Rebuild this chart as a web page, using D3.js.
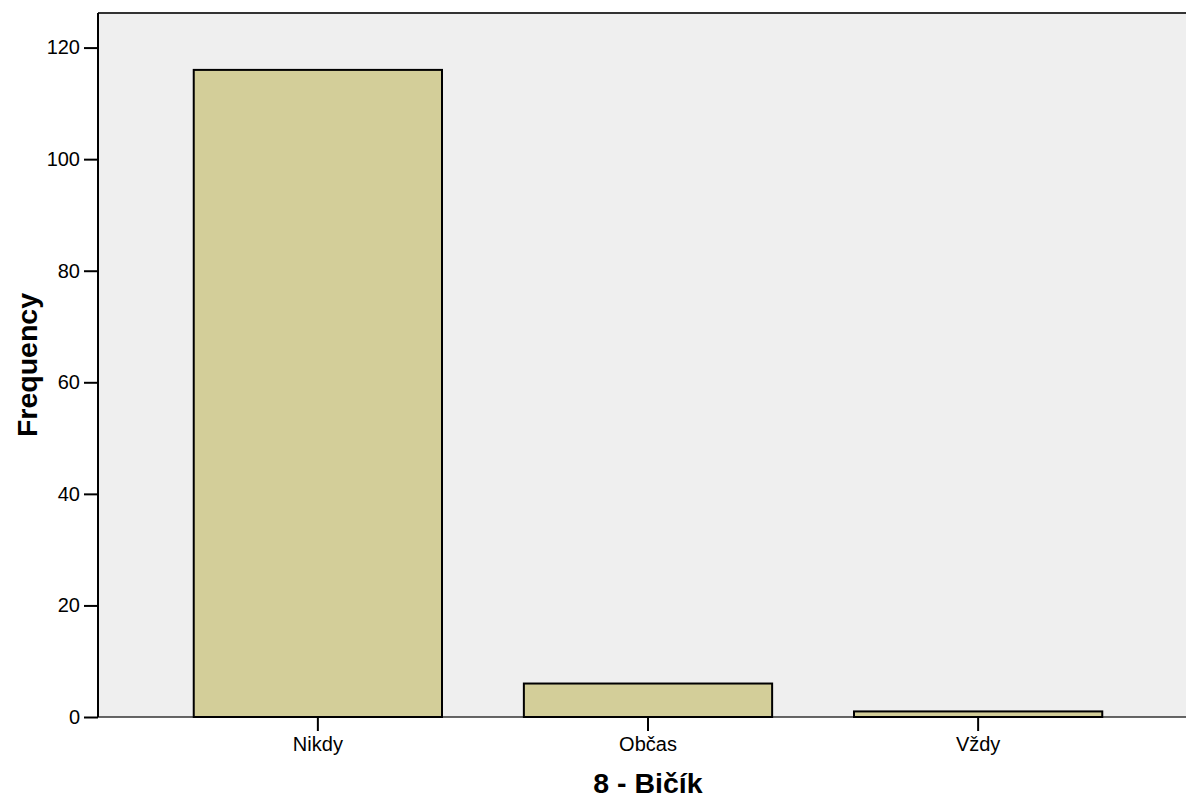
<!DOCTYPE html>
<html><head><meta charset="utf-8">
<script src="https://cdn.jsdelivr.net/npm/d3@7"></script>
<style>body{margin:0;background:#fff}svg{display:block}</style>
</head><body>
<svg id="c" width="1186" height="802"></svg>
<script>
const categories = ["Nikdy", "Občas", "Vždy"];
const frequencies = [116, 6, 1];
const yTicks = [0, 20, 40, 60, 80, 100, 120];
const xTitle = "8 - Bičík";
const yTitle = "Frequency";

const svg = d3.select("#c");
const L = 98, T = 13, R = 1198, B = 717;
const font = "'Liberation Sans', Arial, sans-serif";

const x = d3.scaleBand().domain(categories).range([L, R]).paddingInner(0.248).paddingOuter(0.29);
const y = d3.scaleLinear().domain([0, 126.2]).range([B, T]);

svg.append("rect").attr("x", L).attr("y", T).attr("width", R - L).attr("height", B - T)
  .attr("fill", "#efefef");
svg.append("line").attr("x1", L).attr("x2", R).attr("y1", T).attr("y2", T)
  .attr("stroke", "#333").attr("stroke-width", 2);

// bottom axis line
svg.append("line").attr("x1", L).attr("x2", R).attr("y1", B).attr("y2", B)
  .attr("stroke", "#333").attr("stroke-width", 1.5);

svg.selectAll("rect.bar").data(categories).enter().append("rect").attr("class", "bar")
  .attr("x", d => x(d)).attr("width", x.bandwidth())
  .attr("y", (d, i) => y(frequencies[i])).attr("height", (d, i) => B - y(frequencies[i]))
  .attr("fill", "#d3ce99").attr("stroke", "#000").attr("stroke-width", 2);

const yAxis = svg.append("g").attr("transform", `translate(${L},0)`)
  .call(d3.axisLeft(y).tickValues(yTicks).tickSize(14).tickPadding(4).tickFormat(d3.format("d")));
yAxis.select(".domain").attr("stroke", "#000").attr("stroke-width", 2).attr("d", `M0,${B}V${T}`);
yAxis.selectAll(".tick line").attr("stroke", "#000").attr("stroke-width", 2);
yAxis.selectAll("text").attr("font-family", font).attr("font-size", 20).attr("fill", "#000");

const xAxis = svg.append("g").attr("transform", `translate(0,${B})`)
  .call(d3.axisBottom(x).tickSize(14).tickPadding(6));
xAxis.select(".domain").remove();
xAxis.selectAll(".tick line").attr("stroke", "#000").attr("stroke-width", 2);
xAxis.selectAll("text").attr("font-family", font).attr("font-size", 20).attr("fill", "#000");

svg.append("text").attr("x", (x("Nikdy") + x("Vždy") + x.bandwidth()) / 2).attr("y", 793)
  .attr("text-anchor", "middle").attr("font-family", font).attr("font-weight", "bold")
  .attr("font-size", 28.5).text(xTitle);

svg.append("text").attr("transform", "translate(37,365) rotate(-90)")
  .attr("text-anchor", "middle").attr("font-family", font).attr("font-weight", "bold")
  .attr("font-size", 28.5).text(yTitle);
</script>
</body></html>
